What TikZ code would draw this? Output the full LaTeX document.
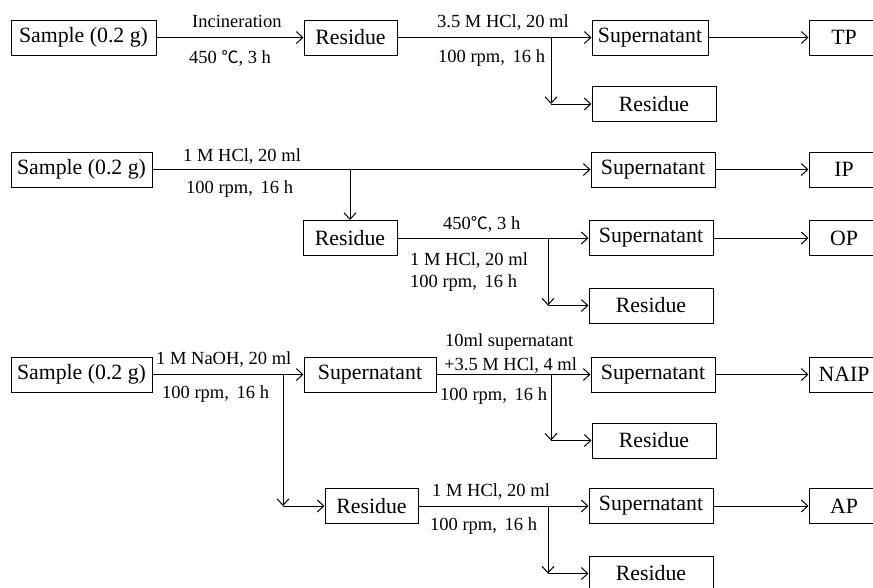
\documentclass[tikz,border=0pt]{standalone}
\usepackage{fontspec}
\setmainfont{Liberation Serif}
\newfontfamily\cjk[Scale=0.92]{Noto Sans CJK SC}
\usetikzlibrary{arrows.meta}
\newcommand{\degC}{{\cjk ℃}}
\begin{document}
\begin{tikzpicture}[x=1pt,y=-1pt,
  box/.style={draw, line width=1pt, minimum height=35pt, inner sep=0pt, font=\fontsize{21.8}{24}\selectfont},
  lab/.style={inner sep=0pt, anchor=base west, font=\fontsize{18.5}{21}\selectfont},
  arr/.style={line width=1pt, -{Straight Barb[length=6.5pt,width=12pt]}}]
\clip (0,0) rectangle (873,587);
% ---------- row 1 (TP)
\node[box, minimum width=145pt] (s1) at (83.5,37.5) {Sample (0.2 g)};
\node[box, minimum width=93pt] (r1) at (350.5,37.5) {Residue};
\node[box, minimum width=116pt] (sup1) at (650,37.5) {Supernatant};
\node[box, minimum width=70pt] (tp) at (844,37.5) {TP};
\node[box, minimum width=124pt] (res1) at (654,104) {Residue};
\coordinate (b1) at (551,37.5);
\coordinate (c1) at (551,104);
\draw[arr] (s1) -- (r1);
\draw[arr] (r1) -- (sup1);
\draw[arr] (b1) -- (c1);
\draw[arr] (c1) -- (res1);
\draw[arr] (sup1) -- (tp);
\node[lab] (l1a) at (192,27) {Incineration};
\node[lab] (l1b) at (189,63) {450 \degC, 3 h};
\node[lab] (l1c) at (437,27) {3.5 M HCl, 20 ml};
\node[lab] (l1d) at (438,62) {100 rpm,\, 16 h};
% ---------- row 2 (IP / OP)
\node[box, minimum width=141pt] (s2) at (81.5,169.5) {Sample (0.2 g)};
\node[box, minimum width=124pt] (sup2) at (653,169.5) {Supernatant};
\node[box, minimum width=70pt] (ip) at (844,169.5) {IP};
\node[box, minimum width=94pt] (r2) at (350,238) {Residue};
\node[box, minimum width=124pt] (sup3) at (651,238) {Supernatant};
\node[box, minimum width=70pt] (op) at (844,238) {OP};
\node[box, minimum width=124pt] (res3) at (651,305.5) {Residue};
\coordinate (b2) at (350,169.5);
\coordinate (b3) at (548,238);
\coordinate (c3) at (548,305.5);
\draw[arr] (s2) -- (sup2);
\draw[arr] (b2) -- (r2);
\draw[arr] (sup2) -- (ip);
\draw[arr] (r2) -- (sup3);
\draw[arr] (b3) -- (c3);
\draw[arr] (c3) -- (res3);
\draw[arr] (sup3) -- (op);
\node[lab] (l2a) at (183,161) {1 M HCl, 20 ml};
\node[lab] (l2b) at (186,193) {100 rpm,\, 16 h};
\node[lab] (l2c) at (443,229) {450\degC, 3 h};
\node[lab] (l2d) at (410,265) {1 M HCl, 20 ml};
\node[lab] (l2e) at (410,287) {100 rpm,\, 16 h};
% ---------- row 3 (NAIP / AP)
\node[box, minimum width=141pt] (s3) at (81.5,374.5) {Sample (0.2 g)};
\node[box, minimum width=132pt] (supA) at (370,374.5) {Supernatant};
\node[box, minimum width=124pt] (supB) at (653,374.5) {Supernatant};
\node[box, minimum width=70pt] (naip) at (844,374.5) {NAIP};
\node[box, minimum width=124pt] (resB) at (654,440.5) {Residue};
\node[box, minimum width=93pt] (r4) at (371.5,506) {Residue};
\node[box, minimum width=124pt] (supC) at (651,506) {Supernatant};
\node[box, minimum width=70pt] (ap) at (844,506) {AP};
\node[box, minimum width=124pt] (resC) at (651,573.5) {Residue};
\coordinate (b4) at (283,374.5);
\coordinate (c4) at (283,506);
\coordinate (b5) at (551,374.5);
\coordinate (c5) at (551,440.5);
\coordinate (b6) at (548,506);
\coordinate (c6) at (548,573.5);
\draw[arr] (s3) -- (supA);
\draw[arr] (b4) -- (c4);
\draw[arr] (c4) -- (r4);
\draw[arr] (supA) -- (supB);
\draw[arr] (b5) -- (c5);
\draw[arr] (c5) -- (resB);
\draw[arr] (supB) -- (naip);
\draw[arr] (r4) -- (supC);
\draw[arr] (b6) -- (c6);
\draw[arr] (c6) -- (resC);
\draw[arr] (supC) -- (ap);
\node[lab] (l3a) at (156,364) {1 M NaOH, 20 ml};
\node[lab] (l3b) at (162,398) {100 rpm,\, 16 h};
\node[lab] (l3c) at (445,346) {10ml supernatant};
\node[lab] (l3d) at (444,370) {+3.5 M HCl, 4 ml};
\node[lab] (l3e) at (440,400) {100 rpm,\, 16 h};
\node[lab] (l3f) at (432,496) {1 M HCl, 20 ml};
\node[lab] (l3g) at (430,530) {100 rpm,\, 16 h};
\end{tikzpicture}
\end{document}
